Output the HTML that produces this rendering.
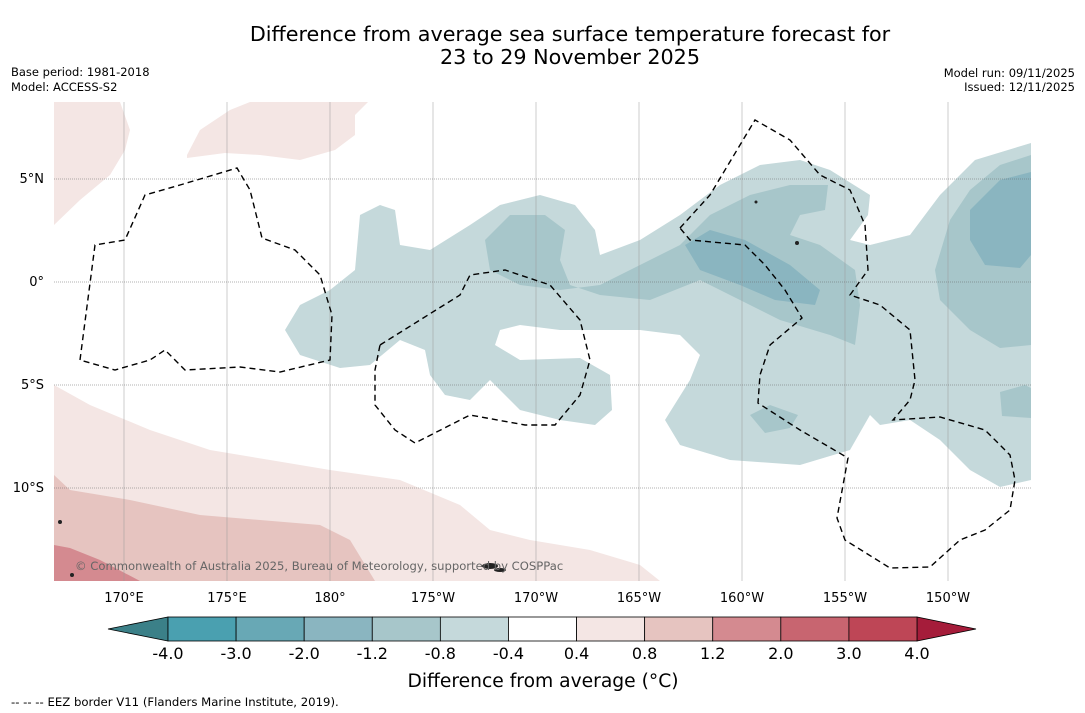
<!DOCTYPE html>
<html><head><meta charset="utf-8"><style>
body{margin:0;background:#fff;font-family:"DejaVu Sans","Liberation Sans",sans-serif}
svg{display:block}
</style></head><body>
<svg width="1085" height="713" viewBox="0 0 1085 713" font-family="DejaVu Sans, Liberation Sans, sans-serif">
<rect width="1085" height="713" fill="#fff"/>
<text x="570" y="41" text-anchor="middle" font-size="20.7">Difference from average sea surface temperature forecast for</text>
<text x="570" y="64" text-anchor="middle" font-size="20.7">23 to 29 November 2025</text>
<text x="11" y="76" font-size="11.5">Base period: 1981-2018</text>
<text x="11" y="91" font-size="11.5">Model: ACCESS-S2</text>
<text x="1075" y="77" font-size="11.5" text-anchor="end">Model run: 09/11/2025</text>
<text x="1075" y="91" font-size="11.5" text-anchor="end">Issued: 12/11/2025</text>
<defs><clipPath id="mc"><rect x="54" y="102" width="977" height="479"/></clipPath></defs>
<g clip-path="url(#mc)">
<path fill="#f4e6e4" d="M54,225L80,200L110,175L125,150L130,130L120,102L54,102Z M187,155L200,130L230,110L250,102L368,102L355,115L355,135L335,150L300,160L260,155L225,153L187,158Z M54,385L90,405L150,430L210,450L270,460L330,470L400,480L460,505L490,530L530,540L590,550L640,565L660,581L54,581Z"/>
<path fill="#e6c4c0" d="M54,475L70,490L130,500L200,515L260,520L320,525L350,540L375,581L54,581Z"/>
<path fill="#d48a90" d="M54,545L70,548L100,560L140,581L54,581Z"/>
<path fill="#c5d9db" fill-rule="evenodd" d="M285,330L300,305L330,290L355,270L360,215L380,205L395,210L400,245L430,250L470,225L500,205L540,195L575,205L595,230L600,255L640,240L680,215L720,185L760,165L800,160L830,170L870,195L868,215L850,240L870,245L910,235L940,195L975,160L1031,143L1031,480L1000,487L970,470L940,440L910,420L880,425L870,415L850,450L800,465L730,460L680,445L665,420L690,380L700,355L680,335L640,330L600,330L560,330L520,325L500,330L495,345L520,360L580,358L610,375L612,410L595,425L560,420L520,410L500,390L490,380L470,400L445,395L430,375L425,350L400,340L370,365L340,368L300,355Z"/>
<path fill="#a7c6ca" d="M485,240L510,215L545,215L565,230L560,260L570,285L600,295L650,300L700,280L740,300L780,320L830,335L855,345L860,305L855,270L820,245L790,235L800,215L825,210L828,185L790,185L750,195L710,215L680,245L640,265L600,285L560,290L520,285L490,270Z M935,270L950,220L970,190L1000,165L1031,155L1031,345L1000,348L970,330L940,300Z M750,415L770,405L798,415L790,428L765,433Z M1000,392L1025,385L1031,388L1031,418L1002,416Z"/>
<path fill="#8ab5c0" d="M685,245L710,230L745,240L790,265L820,290L815,305L775,300L740,285L700,270Z M970,210L1000,180L1031,172L1031,255L1020,268L985,265L970,240Z"/>
<g id="grid"></g>
<g fill="none" stroke="#000" stroke-width="1.4" stroke-dasharray="6,4">
<path d="M80,360L95,245L125,240L145,195L180,185L237,168L250,190L262,238L295,250L320,275L332,315L330,360L280,372L240,367L185,370L165,350L150,360L115,370Z"/>
<path d="M380,345L460,295L470,275L505,270L550,285L580,320L590,360L580,395L555,425L525,425L470,415L415,443L395,430L375,405L375,370Z"/>
<path d="M680,228L710,195L755,120L790,140L820,175L850,190L865,225L868,270L850,295L880,305L910,330L915,380L910,400L893,420L940,417L985,430L1010,455L1015,480L1010,510L985,530L960,540L930,567L890,568L845,540L837,518L848,458L800,430L758,403L760,375L770,345L802,318L785,290L765,265L745,245L690,240Z"/>
</g>
<g fill="#222">
<ellipse cx="490" cy="566" rx="8" ry="3"/><ellipse cx="500" cy="570" rx="6" ry="2"/><circle cx="60" cy="522" r="2"/><circle cx="72" cy="575" r="2"/><circle cx="797" cy="243" r="2"/><circle cx="756" cy="202" r="1.5"/>
</g>
</g>
<text x="75" y="570" font-size="11.6" fill="#666">© Commonwealth of Australia 2025, Bureau of Meteorology, supported by COSPPac</text>
<g id="axes" font-size="13"></g>
<g id="cbar"></g>
<text x="543" y="687" text-anchor="middle" font-size="18.7">Difference from average (°C)</text>
<text x="11" y="706" font-size="11.7">-- -- -- EEZ border V11 (Flanders Marine Institute, 2019).</text>
</svg>
<script>
const lonTicks=[170,175,180,185,190,195,200,205,210];
const lonLabels=["170°E","175°E","180°","175°W","170°W","165°W","160°W","155°W","150°W"];
const latTicks=[5,0,-5,-10];
const latLabels=["5°N","0°","5°S","10°S"];
const cbarTicks=["-4.0","-3.0","-2.0","-1.2","-0.8","-0.4","0.4","0.8","1.2","2.0","3.0","4.0"];
const cbarColors=["#4aa0b0","#68a8b5","#8ab5c0","#a7c6ca","#c5d9db","#ffffff","#f4e6e4","#e6c4c0","#d48a90","#c86570","#be4656"];
const NS="http://www.w3.org/2000/svg";
const xLon=l=>124+(l-170)*20.6;
const yLat=a=>282-a*20.6;
const grid=document.getElementById('grid'),axes=document.getElementById('axes'),cb=document.getElementById('cbar');
function mk(tag,attrs,parent){const e=document.createElementNS(NS,tag);for(const k in attrs)e.setAttribute(k,attrs[k]);parent.appendChild(e);return e;}
lonTicks.forEach((l,i)=>{
 const ln=mk('line',{x1:xLon(l),x2:xLon(l),y1:102,y2:581,stroke:'#999','stroke-width':0.5},grid);
 
 
 const t=mk('text',{x:xLon(l),y:602,'text-anchor':'middle'},axes);t.textContent=lonLabels[i];
 
 
});
latTicks.forEach((a,i)=>{
 const ln=mk('line',{x1:54,x2:1031,y1:yLat(a),y2:yLat(a),stroke:'#666','stroke-width':0.6,'stroke-dasharray':'1,1'},grid);
 
 
 const t=mk('text',{x:44,y:yLat(a)+4,'text-anchor':'end'},axes);t.textContent=latLabels[i];
 
 
});
const cx0=168,cx1=917,cy=617,ch=24,w=(cx1-cx0)/cbarColors.length;
const lo=mk('polygon',{points:`${cx0},${cy} ${cx0},${cy+ch} 108,${cy+ch/2}`,fill:'#3b8088',stroke:'#000','stroke-width':0.8},cb);


const hi=mk('polygon',{points:`${cx1},${cy} ${cx1},${cy+ch} 976,${cy+ch/2}`,fill:'#a51c3a',stroke:'#000','stroke-width':0.8},cb);


cbarColors.forEach((c,i)=>{
 const r=mk('rect',{x:cx0+i*w,y:cy,width:w,height:ch,fill:c,stroke:'#000','stroke-width':0.8},cb);
 
 
});
cbarTicks.forEach((s,i)=>{
 const t=mk('text',{x:cx0+i*w,y:659,'text-anchor':'middle','font-size':16},cb);t.textContent=s;
 
 
});
</script>
</body></html>
